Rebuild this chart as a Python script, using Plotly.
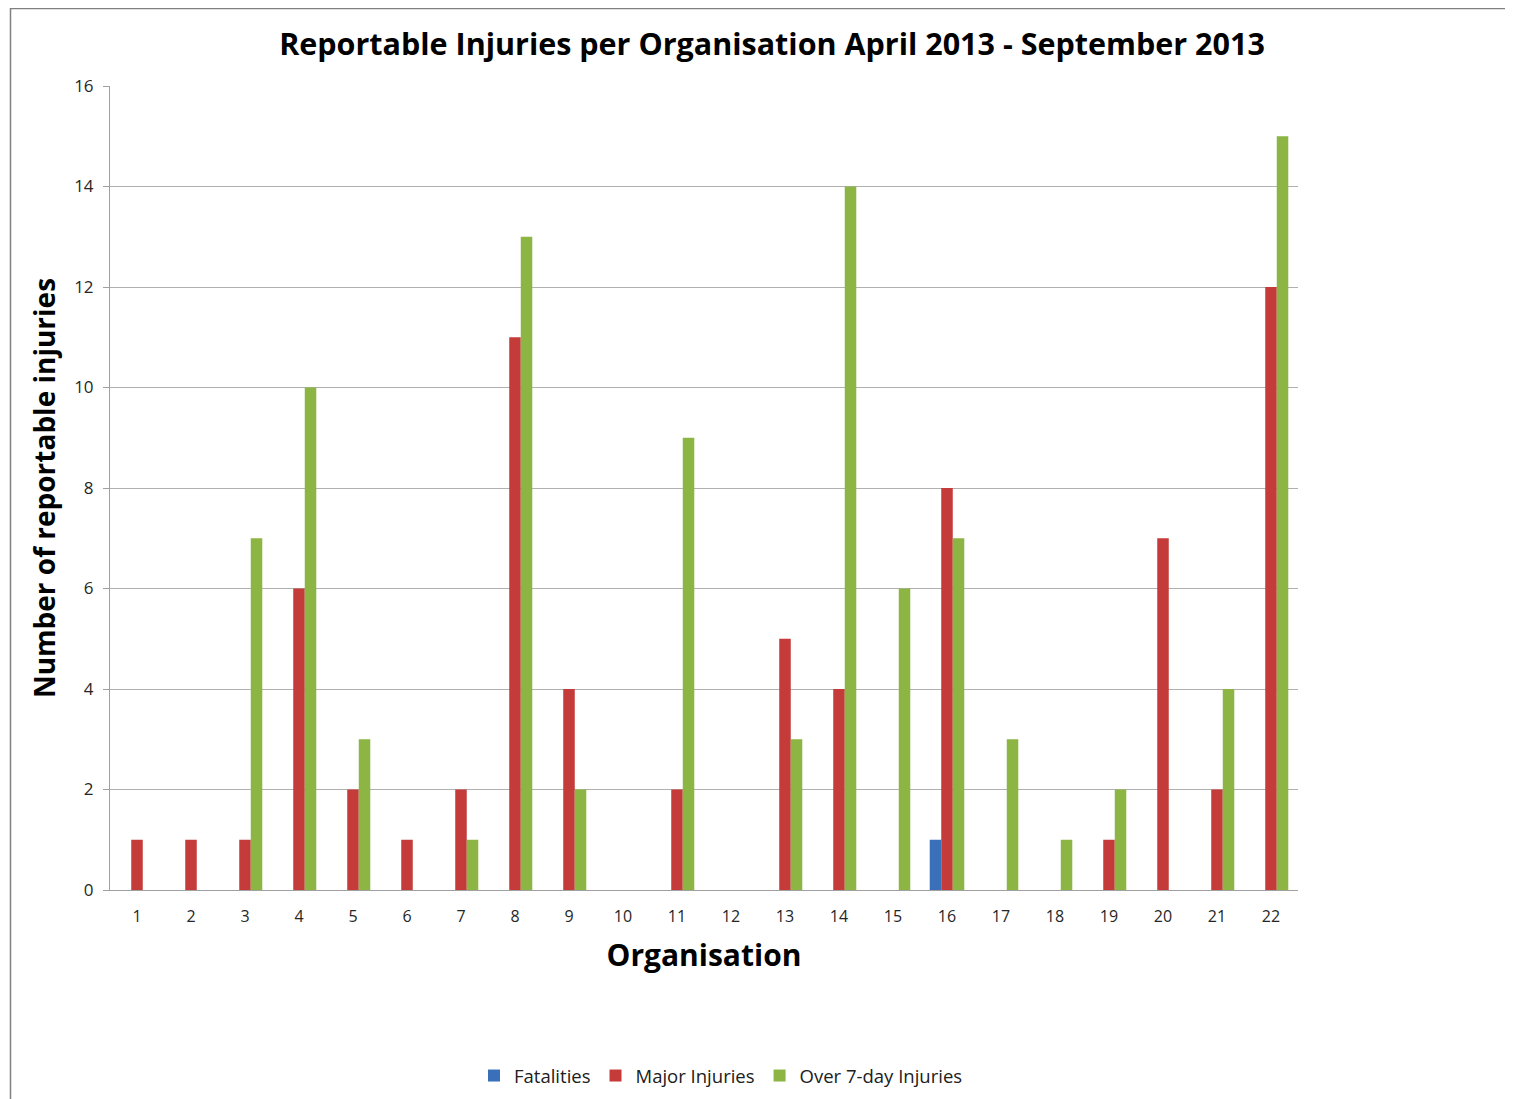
import plotly.graph_objects as go

organisations = [str(i) for i in range(1, 23)]
fatalities = [0, 0, 0, 0, 0, 0, 0, 0, 0, 0, 0, 0, 0, 0, 0, 1, 0, 0, 0, 0, 0, 0]
major = [1, 1, 1, 6, 2, 1, 2, 11, 4, 0, 2, 0, 5, 4, 0, 8, 0, 0, 1, 7, 2, 12]
over7 = [0, 0, 7, 10, 3, 0, 1, 13, 2, 0, 9, 0, 3, 14, 6, 7, 3, 1, 2, 0, 4, 15]

OFF = 8  # page body margin
W, H = 1513 - OFF, 1099 - OFF
L, R, T, B = 110 - OFF, 1298 - OFF, 86 - OFF, 890 - OFF

def px(x):
    return (x - OFF - L) / (R - L)

def py(y):
    return (B - (y - OFF)) / (B - T)

font = "Open Sans"

fig = go.Figure()
fig.add_trace(go.Bar(name="Fatalities", x=organisations, y=fatalities,
                     marker=dict(color="#3a6fba", line=dict(width=0))))
fig.add_trace(go.Bar(name="Major Injuries", x=organisations, y=major,
                     marker=dict(color="#c43b39", line=dict(width=0))))
fig.add_trace(go.Bar(name="Over 7-day Injuries", x=organisations, y=over7,
                     marker=dict(color="#8cb543", line=dict(width=0))))

fig.update_layout(
    width=W, height=H,
    margin=dict(l=L, r=W - R, t=T, b=H - B, autoexpand=False),
    paper_bgcolor="white", plot_bgcolor="white",
    barmode="group", bargap=0.36, bargroupgap=0,
    font=dict(family=font, color="#404040", size=16),
    title=dict(text="<b>Reportable Injuries per Organisation April 2013 - September 2013</b>",
               xref="paper", x=px(772), xanchor="center",
               yref="container", y=1 - (44 - OFF) / H, yanchor="middle",
               font=dict(family=font, size=30.5, color="black")),
    xaxis=dict(type="category", showgrid=False, showline=True, linecolor="#a0a0a0",
               linewidth=1, ticks="", tickfont=dict(size=16, color="#262626"),
               ticklabelstandoff=12,
               title=dict(text="<b>Organisation</b>", font=dict(size=30, color="black"), standoff=18)),
    yaxis=dict(range=[0, 16], dtick=2, showgrid=True, gridcolor="#b0b0b0", gridwidth=1,
               showline=True, linecolor="#a0a0a0", linewidth=1, ticks="outside",
               ticklen=6, tickcolor="#a0a0a0", zeroline=False,
               tickfont=dict(size=17, color="#262626"), ticklabelstandoff=6,
               title=dict(text="<b>Number of reportable injuries</b>", font=dict(size=28, color="black"), standoff=10)),
    legend=dict(orientation="h", x=px(721), xanchor="center", y=py(1076), yanchor="middle",
                font=dict(size=18.5, color="#202020"), traceorder="normal",
                itemwidth=30, tracegroupgap=0),
    showlegend=True,
)

# outer frame (top and left edges visible)
fig.add_shape(type="line", xref="paper", yref="paper", x0=px(10), x1=px(1540), y0=py(8.5), y1=py(8.5),
              line=dict(color="#808080", width=1.5))
fig.add_shape(type="line", xref="paper", yref="paper", x0=px(10.5), x1=px(10.5), y0=py(8), y1=py(1120),
              line=dict(color="#808080", width=1.5))

fig.write_html("out.html")
